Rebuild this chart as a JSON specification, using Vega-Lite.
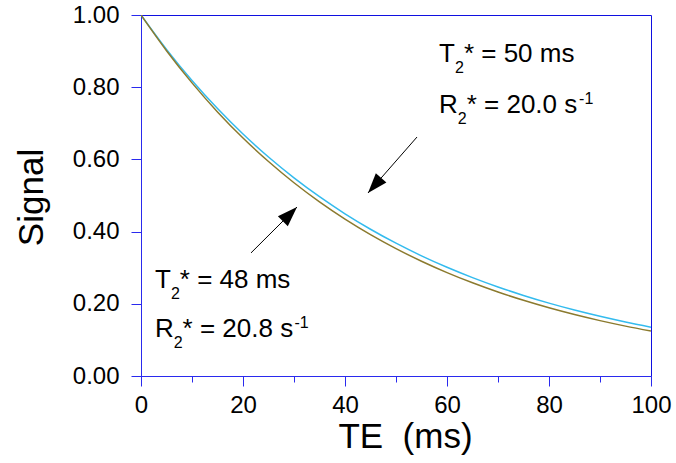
{
  "$schema": "https://vega.github.io/schema/vega-lite/v6.json",
  "width": 510,
  "height": 361,
  "autosize": "none",
  "padding": {"left": 141, "top": 15, "right": 25, "bottom": 87},
  "background": "white",
  "config": {"view": {"stroke": "#1010e0", "strokeWidth": 1}, "font": "Liberation Sans"},
  "datasets": {
    "curves": [
      {"TE": 0, "signal": 1, "series": "T2* = 50 ms"},
      {"TE": 5, "signal": 0.904837, "series": "T2* = 50 ms"},
      {"TE": 10, "signal": 0.818731, "series": "T2* = 50 ms"},
      {"TE": 15, "signal": 0.740818, "series": "T2* = 50 ms"},
      {"TE": 20, "signal": 0.67032, "series": "T2* = 50 ms"},
      {"TE": 25, "signal": 0.606531, "series": "T2* = 50 ms"},
      {"TE": 30, "signal": 0.548812, "series": "T2* = 50 ms"},
      {"TE": 35, "signal": 0.496585, "series": "T2* = 50 ms"},
      {"TE": 40, "signal": 0.449329, "series": "T2* = 50 ms"},
      {"TE": 45, "signal": 0.40657, "series": "T2* = 50 ms"},
      {"TE": 50, "signal": 0.367879, "series": "T2* = 50 ms"},
      {"TE": 55, "signal": 0.332871, "series": "T2* = 50 ms"},
      {"TE": 60, "signal": 0.301194, "series": "T2* = 50 ms"},
      {"TE": 65, "signal": 0.272532, "series": "T2* = 50 ms"},
      {"TE": 70, "signal": 0.246597, "series": "T2* = 50 ms"},
      {"TE": 75, "signal": 0.22313, "series": "T2* = 50 ms"},
      {"TE": 80, "signal": 0.201897, "series": "T2* = 50 ms"},
      {"TE": 85, "signal": 0.182684, "series": "T2* = 50 ms"},
      {"TE": 90, "signal": 0.165299, "series": "T2* = 50 ms"},
      {"TE": 95, "signal": 0.149569, "series": "T2* = 50 ms"},
      {"TE": 100, "signal": 0.135335, "series": "T2* = 50 ms"},
      {"TE": 0, "signal": 1, "series": "T2* = 48 ms"},
      {"TE": 5, "signal": 0.901076, "series": "T2* = 48 ms"},
      {"TE": 10, "signal": 0.811938, "series": "T2* = 48 ms"},
      {"TE": 15, "signal": 0.731616, "series": "T2* = 48 ms"},
      {"TE": 20, "signal": 0.65924, "series": "T2* = 48 ms"},
      {"TE": 25, "signal": 0.594025, "series": "T2* = 48 ms"},
      {"TE": 30, "signal": 0.535261, "series": "T2* = 48 ms"},
      {"TE": 35, "signal": 0.48231, "series": "T2* = 48 ms"},
      {"TE": 40, "signal": 0.434598, "series": "T2* = 48 ms"},
      {"TE": 45, "signal": 0.391606, "series": "T2* = 48 ms"},
      {"TE": 50, "signal": 0.352866, "series": "T2* = 48 ms"},
      {"TE": 55, "signal": 0.317959, "series": "T2* = 48 ms"},
      {"TE": 60, "signal": 0.286505, "series": "T2* = 48 ms"},
      {"TE": 65, "signal": 0.258163, "series": "T2* = 48 ms"},
      {"TE": 70, "signal": 0.232624, "series": "T2* = 48 ms"},
      {"TE": 75, "signal": 0.209611, "series": "T2* = 48 ms"},
      {"TE": 80, "signal": 0.188876, "series": "T2* = 48 ms"},
      {"TE": 85, "signal": 0.170192, "series": "T2* = 48 ms"},
      {"TE": 90, "signal": 0.153355, "series": "T2* = 48 ms"},
      {"TE": 95, "signal": 0.138185, "series": "T2* = 48 ms"},
      {"TE": 100, "signal": 0.124514, "series": "T2* = 48 ms"}
    ],
    "arrows": [
      {"TE": 54.12, "signal": 0.662, "TE2": 44.51, "signal2": 0.507, "arrow": "upper"},
      {"TE": 21.57, "signal": 0.341, "TE2": 30.59, "signal2": 0.468, "arrow": "lower"}
    ],
    "mainText": [
      {"TE": 58.43, "signal": 0.8698, "text": "T"},
      {"TE": 63.31, "signal": 0.8698, "text": "* = 50 ms"},
      {"TE": 58.43, "signal": 0.7285, "text": "R"},
      {"TE": 63.86, "signal": 0.7285, "text": "* = 20.0 s"},
      {"TE": 2.745, "signal": 0.2438, "text": "T"},
      {"TE": 7.61, "signal": 0.2438, "text": "* = 48 ms"},
      {"TE": 2.745, "signal": 0.108, "text": "R"},
      {"TE": 8.16, "signal": 0.108, "text": "* = 20.8 s"}
    ],
    "smallText": [
      {"TE": 61.57, "signal": 0.8393, "text": "2"},
      {"TE": 62.12, "signal": 0.6981, "text": "2"},
      {"TE": 85.9, "signal": 0.7535, "text": "-1"},
      {"TE": 5.86, "signal": 0.2133, "text": "2"},
      {"TE": 6.43, "signal": 0.0776, "text": "2"},
      {"TE": 30.1, "signal": 0.133, "text": "-1"}
    ]
  },
  "layer": [
    {
      "data": {"name": "curves"},
      "mark": {"type": "line", "strokeWidth": 1.5, "interpolate": "monotone", "clip": true},
      "encoding": {
        "x": {
          "field": "TE", "type": "quantitative",
          "scale": {"domain": [0, 100], "nice": false, "zero": false},
          "axis": {
            "title": "TE\u00a0 (ms)",
            "values": [0, 5, 10, 15, 20, 25, 30, 35, 40, 45, 50, 55, 60, 65, 70, 75, 80, 85, 90, 95, 100],
            "format": "d",
            "labelExpr": "datum.value % 20 === 0 ? datum.label : ''",
            "tickSize": {"condition": {"test": "datum.value % 20 === 0", "value": 10}, "value": 6},
            "labelFontSize": 24, "labelColor": "black", "labelPadding": 7,
            "labelOverlap": false, "labelFlush": false, "labelBound": false,
            "domainColor": "#2a2aee", "tickColor": "#2a2aee", "grid": false,
            "titleFontSize": 35, "titleFontWeight": "normal", "titleColor": "black",
            "titleX": 264, "titleY": 71, "titleBaseline": "alphabetic", "titleAlign": "center"
          }
        },
        "y": {
          "field": "signal", "type": "quantitative",
          "scale": {"domain": [0, 1], "nice": false, "zero": false},
          "axis": {
            "title": "Signal",
            "values": [0, 0.05, 0.1, 0.15, 0.2, 0.25, 0.3, 0.35, 0.4, 0.45, 0.5, 0.55, 0.6, 0.65, 0.7, 0.75, 0.8, 0.85, 0.9, 0.95, 1],
            "labelExpr": "round(datum.value * 100) % 20 === 0 ? format(datum.value, '.2f') : ''",
            "tickSize": {"condition": {"test": "round(datum.value * 100) % 20 === 0", "value": 10}, "value": 6},
            "labelFontSize": 24, "labelColor": "black", "labelPadding": 12,
            "labelOverlap": false, "labelFlush": false, "labelBound": false,
            "domainColor": "#2a2aee", "tickColor": "#2a2aee", "grid": false,
            "titleFontSize": 35, "titleFontWeight": "normal", "titleColor": "black",
            "titleX": -99, "titleY": 182, "titleBaseline": "alphabetic", "titleAlign": "center", "titleAngle": 270
          }
        },
        "color": {
          "field": "series", "type": "nominal",
          "scale": {"domain": ["T2* = 50 ms", "T2* = 48 ms"], "range": ["#33bbee", "#8b7a2e"]},
          "legend": null
        }
      }
    },
    {
      "data": {"name": "arrows"},
      "mark": {"type": "rule", "color": "black", "strokeWidth": 1},
      "encoding": {
        "x": {"field": "TE", "type": "quantitative"},
        "y": {"field": "signal", "type": "quantitative"},
        "x2": {"field": "TE2"},
        "y2": {"field": "signal2"}
      }
    },
    {
      "data": {"name": "arrows"},
      "transform": [{"filter": "datum.arrow === 'upper'"}],
      "mark": {"type": "point", "shape": "M0,0L0.7,2L-0.7,2Z", "size": 400, "angle": 221, "filled": true, "color": "black", "opacity": 1},
      "encoding": {
        "x": {"field": "TE2", "type": "quantitative"},
        "y": {"field": "signal2", "type": "quantitative"}
      }
    },
    {
      "data": {"name": "arrows"},
      "transform": [{"filter": "datum.arrow === 'lower'"}],
      "mark": {"type": "point", "shape": "M0,0L0.7,2L-0.7,2Z", "size": 400, "angle": 45, "filled": true, "color": "black", "opacity": 1},
      "encoding": {
        "x": {"field": "TE2", "type": "quantitative"},
        "y": {"field": "signal2", "type": "quantitative"}
      }
    },
    {
      "data": {"name": "mainText"},
      "mark": {"type": "text", "align": "left", "baseline": "alphabetic", "fontSize": 26, "font": "Liberation Sans", "color": "black"},
      "encoding": {
        "x": {"field": "TE", "type": "quantitative"},
        "y": {"field": "signal", "type": "quantitative"},
        "text": {"field": "text"}
      }
    },
    {
      "data": {"name": "smallText"},
      "mark": {"type": "text", "align": "left", "baseline": "alphabetic", "fontSize": 16, "font": "Liberation Sans", "color": "black"},
      "encoding": {
        "x": {"field": "TE", "type": "quantitative"},
        "y": {"field": "signal", "type": "quantitative"},
        "text": {"field": "text"}
      }
    }
  ]
}
